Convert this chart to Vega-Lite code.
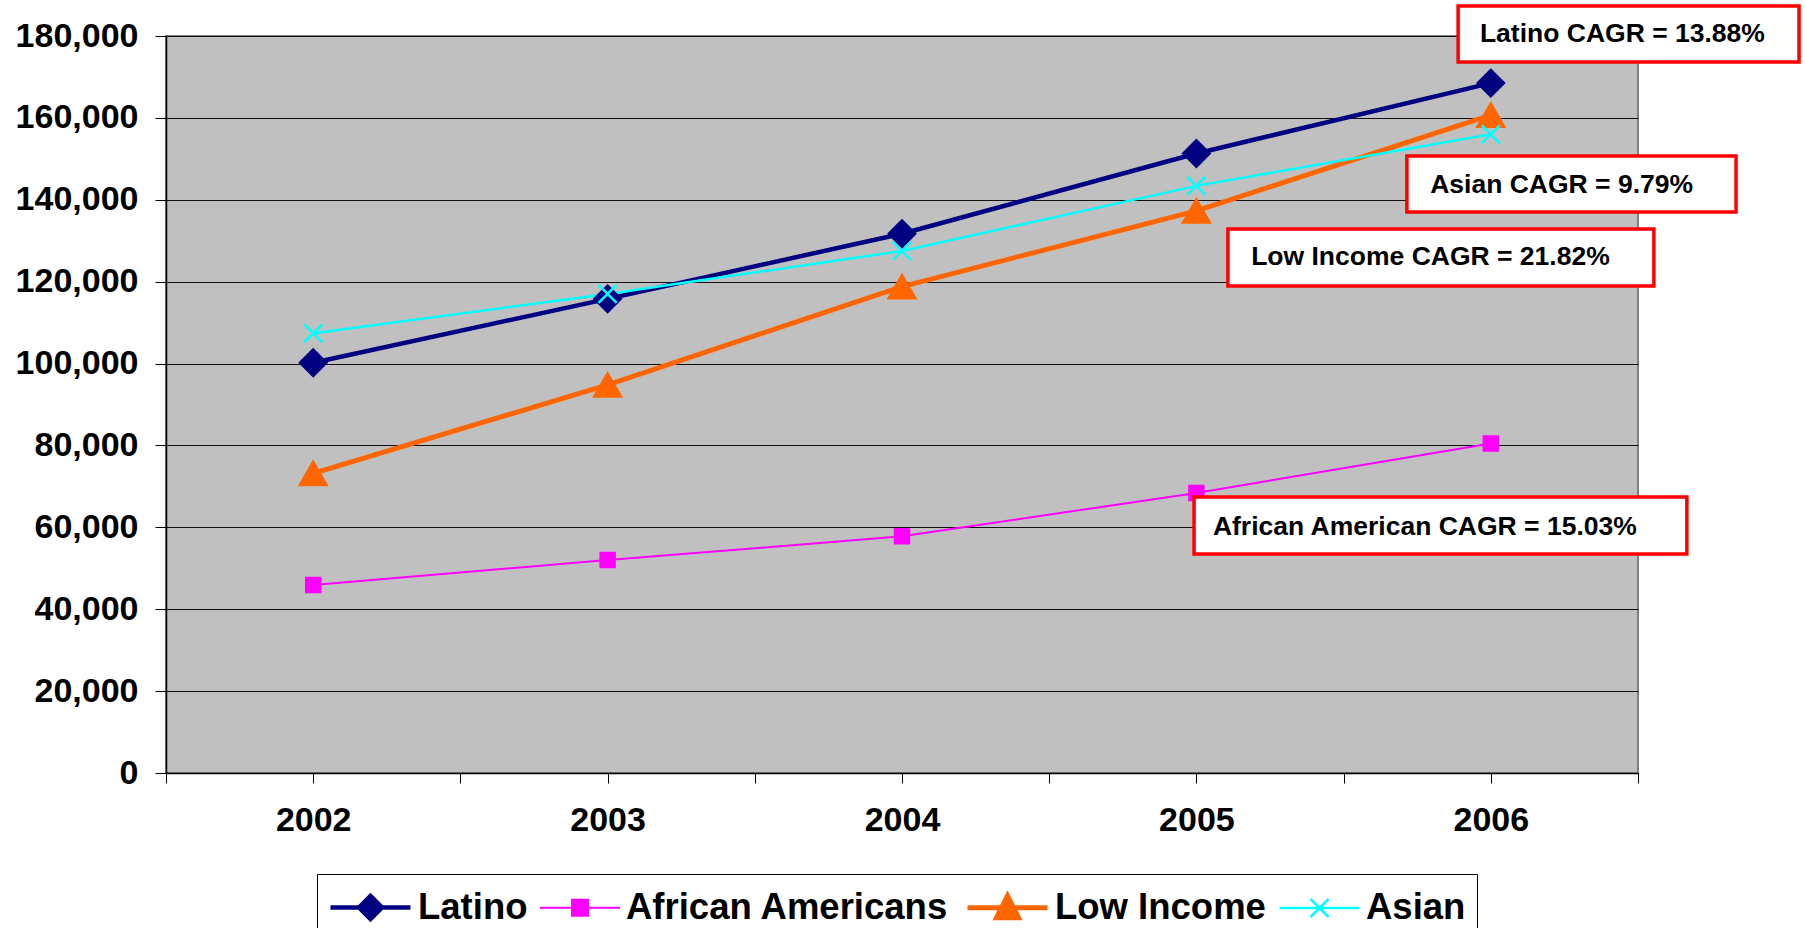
{
  "$schema": "https://vega.github.io/schema/vega-lite/v6.json",
  "width": 1472,
  "height": 737,
  "autosize": {"type": "none"},
  "padding": {"left": 166, "top": 36, "right": 167, "bottom": 155},
  "background": "white",
  "config": {
    "view": {"fill": "#C0C0C0", "stroke": "#808080", "strokeWidth": 2},
    "font": "Liberation Sans"
  },
  "datasets": {
    "series": [
      {"year": 2002, "series": "Latino", "value": 100200},
      {"year": 2003, "series": "Latino", "value": 115800},
      {"year": 2004, "series": "Latino", "value": 131700},
      {"year": 2005, "series": "Latino", "value": 151300},
      {"year": 2006, "series": "Latino", "value": 168500},
      {"year": 2002, "series": "African Americans", "value": 45900},
      {"year": 2003, "series": "African Americans", "value": 52000},
      {"year": 2004, "series": "African Americans", "value": 57800},
      {"year": 2005, "series": "African Americans", "value": 68400},
      {"year": 2006, "series": "African Americans", "value": 80500},
      {"year": 2002, "series": "Low Income", "value": 73200},
      {"year": 2003, "series": "Low Income", "value": 94800},
      {"year": 2004, "series": "Low Income", "value": 118800},
      {"year": 2005, "series": "Low Income", "value": 137300},
      {"year": 2006, "series": "Low Income", "value": 160700},
      {"year": 2002, "series": "Asian", "value": 107400},
      {"year": 2003, "series": "Asian", "value": 117000},
      {"year": 2004, "series": "Asian", "value": 127500},
      {"year": 2005, "series": "Asian", "value": 143400},
      {"year": 2006, "series": "Asian", "value": 156000}
    ],
    "notes": [
      {"label": "Latino CAGR = 13.88%", "x0": 2005.889, "x1": 2007.047, "y0": 187300, "y1": 173630, "tx": 2005.963, "ty": 180460},
      {"label": "Asian CAGR = 9.79%", "x0": 2005.715, "x1": 2006.833, "y0": 150670, "y1": 137000, "tx": 2005.794, "ty": 143590},
      {"label": "Low Income CAGR = 21.82%", "x0": 2005.107, "x1": 2006.554, "y0": 132845, "y1": 118925, "tx": 2005.186, "ty": 126010},
      {"label": "African American CAGR = 15.03%", "x0": 2004.992, "x1": 2006.666, "y0": 67400, "y1": 53480, "tx": 2005.056, "ty": 60070}
    ]
  },
  "layer": [
    {
      "data": {"name": "series"},
      "mark": {"type": "line", "strokeCap": "round", "strokeJoin": "round"},
      "encoding": {
        "x": {
          "field": "year", "type": "quantitative", "title": null,
          "scale": {"domain": [2001.5, 2006.5], "nice": false, "zero": false},
          "axis": {
            "values": [2001.5, 2002, 2002.5, 2003, 2003.5, 2004, 2004.5, 2005, 2005.5, 2006, 2006.5],
            "labelExpr": "datum.value % 1 === 0 ? format(datum.value, 'd') : ''",
            "grid": false, "tickSize": 10, "tickColor": "black", "tickWidth": 1,
            "domainColor": "black", "domainWidth": 1.5,
            "labelFont": "Liberation Sans", "labelFontSize": 34, "labelFontWeight": "bold", "labelColor": "black",
            "labelPadding": 20, "labelOverlap": false, "labelFlush": false,
            "encode": {"ticks": {"update": {"opacity": {"signal": "datum.value % 1 === 0 ? 0 : 1"}}}}
          }
        },
        "y": {
          "field": "value", "type": "quantitative", "title": null,
          "scale": {"domain": [0, 180000], "nice": false},
          "axis": {
            "values": [0, 20000, 40000, 60000, 80000, 100000, 120000, 140000, 160000, 180000],
            "labelExpr": "format(datum.value, ',')", "grid": true, "gridColor": "#111111", "gridWidth": 1,
            "tickSize": 11, "tickColor": "black", "domainColor": "black", "domainWidth": 1.5,
            "labelFont": "Liberation Sans", "labelFontSize": 34, "labelFontWeight": "bold", "labelColor": "black",
            "labelPadding": 17,
            "encode": {"grid": {"update": {"opacity": {"signal": "datum.value === 180000 ? 0 : 1"}}}}
          }
        },
        "color": {
          "field": "series", "type": "nominal",
          "scale": {"domain": ["Latino", "African Americans", "Low Income", "Asian"], "range": ["#000080", "#FF00FF", "#FF6600", "#00FFFF"]},
          "legend": {
            "title": null, "orient": "none", "legendX": 151, "legendY": 838, "direction": "horizontal",
            "symbolSize": 1600, "symbolType": "circle",
            "labelFont": "Liberation Sans", "labelFontSize": 36.5, "labelFontWeight": "bold", "labelColor": "black",
            "labelOffset": 45, "labelLimit": 1000, "columnPadding": 8, "padding": 11,
            "strokeColor": "black", "fillColor": "white",
            "encode": {
              "symbols": {
                "update": {
                  "shape": {"signal": "datum.value === 'Latino' ? 'M-1,0L3,0M0.425,0L1,-0.575L1.575,0L1,0.575Z' : datum.value === 'African Americans' ? 'M-1,0L3,0M0.6,-0.4L1.4,-0.4L1.4,0.4L0.6,0.4Z' : datum.value === 'Low Income' ? 'M-1,0L3,0M1,-0.6L1.55,0.5L0.45,0.5Z' : 'M-1,0L3,0M0.55,-0.45L1.45,0.45M0.55,0.45L1.45,-0.45'"},
                  "fill": {"signal": "scale('color', datum.value)"},
                  "stroke": {"signal": "scale('color', datum.value)"},
                  "strokeWidth": {"signal": "datum.value === 'Latino' || datum.value === 'Low Income' ? 4.5 : 2"},
                  "opacity": {"value": 1},
                  "fillOpacity": {"value": 1},
                  "strokeOpacity": {"value": 1}
                }
              }
            }
          }
        },
        "strokeWidth": {
          "field": "series", "type": "nominal",
          "scale": {"type": "ordinal", "domain": ["Latino", "African Americans", "Low Income", "Asian"], "range": [4.5, 2, 5, 2.5]},
          "legend": null
        }
      }
    },
    {
      "data": {"name": "series"},
      "transform": [{"filter": "datum.series === 'Latino'"}],
      "mark": {"type": "point", "shape": "diamond", "size": 730, "filled": true, "color": "#000080", "stroke": "#000080", "strokeWidth": 2, "opacity": 1},
      "encoding": {
        "x": {"field": "year", "type": "quantitative", "title": null},
        "y": {"field": "value", "type": "quantitative", "title": null}
      }
    },
    {
      "data": {"name": "series"},
      "transform": [{"filter": "datum.series === 'African Americans'"}],
      "mark": {"type": "point", "shape": "square", "size": 210, "filled": true, "color": "#FF00FF", "stroke": "#FF00FF", "strokeWidth": 2, "opacity": 1},
      "encoding": {
        "x": {"field": "year", "type": "quantitative", "title": null},
        "y": {"field": "value", "type": "quantitative", "title": null}
      }
    },
    {
      "data": {"name": "series"},
      "transform": [{"filter": "datum.series === 'Low Income'"}],
      "mark": {"type": "point", "shape": "triangle-up", "size": 760, "filled": true, "color": "#FF6600", "stroke": "#FF6600", "strokeWidth": 2, "opacity": 1},
      "encoding": {
        "x": {"field": "year", "type": "quantitative", "title": null},
        "y": {"field": "value", "type": "quantitative", "title": null}
      }
    },
    {
      "data": {"name": "series"},
      "transform": [{"filter": "datum.series === 'Asian'"}],
      "mark": {"type": "point", "shape": "M-1,-1L1,1M-1,1L1,-1", "size": 324, "filled": false, "color": "#00FFFF", "strokeWidth": 2.5, "opacity": 1},
      "encoding": {
        "x": {"field": "year", "type": "quantitative", "title": null},
        "y": {"field": "value", "type": "quantitative", "title": null}
      }
    },
    {
      "data": {"name": "notes"},
      "mark": {"type": "rect", "fill": "white", "stroke": "#FF0000", "strokeWidth": 3.5, "clip": false},
      "encoding": {
        "x": {"field": "x0", "type": "quantitative", "title": null},
        "x2": {"field": "x1"},
        "y": {"field": "y0", "type": "quantitative", "title": null},
        "y2": {"field": "y1"}
      }
    },
    {
      "data": {"name": "notes"},
      "mark": {"type": "text", "align": "left", "baseline": "middle", "font": "Liberation Sans", "fontSize": 26.5, "fontWeight": "bold", "color": "black", "clip": false},
      "encoding": {
        "x": {"field": "tx", "type": "quantitative", "title": null},
        "y": {"field": "ty", "type": "quantitative", "title": null},
        "text": {"field": "label", "type": "nominal"}
      }
    }
  ]
}
